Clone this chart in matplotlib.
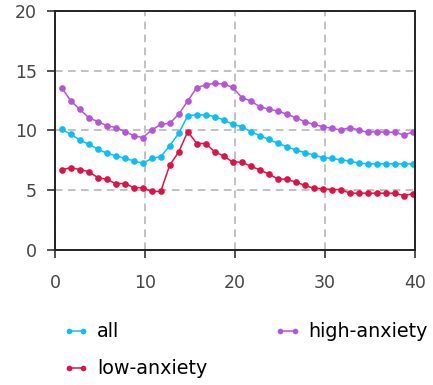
import matplotlib
matplotlib.use("Agg")
import matplotlib.pyplot as plt

x = [0.75, 1.75, 2.75, 3.75, 4.75, 5.75, 6.75, 7.75, 8.75, 9.75,
     10.75, 11.75, 12.75, 13.75, 14.75, 15.75, 16.75, 17.75, 18.75, 19.75,
     20.75, 21.75, 22.75, 23.75, 24.75, 25.75, 26.75, 27.75, 28.75, 29.75,
     30.75, 31.75, 32.75, 33.75, 34.75, 35.75, 36.75, 37.75, 38.75, 39.75]

all_vals = [10.09, 9.67, 9.2, 8.83, 8.44, 8.08, 7.89, 7.66, 7.44, 7.25,
            7.66, 7.8, 8.72, 9.75, 11.23, 11.29, 11.29, 11.15, 10.87, 10.5,
            10.31, 9.9, 9.56, 9.25, 8.92, 8.64, 8.36, 8.14, 7.94, 7.72,
            7.66, 7.53, 7.44, 7.25, 7.2, 7.2, 7.2, 7.2, 7.2, 7.2]

high_vals = [13.57, 12.46, 11.76, 11.06, 10.73, 10.4, 10.23, 9.9, 9.56, 9.39,
             10.03, 10.5, 10.59, 11.35, 12.46, 13.57, 13.8, 13.94, 13.86, 13.6,
             12.74, 12.46, 11.98, 11.76, 11.62, 11.35, 11.06, 10.73, 10.5, 10.31,
             10.17, 10.03, 10.23, 10.03, 9.84, 9.9, 9.84, 9.84, 9.62, 9.84]

low_vals = [6.7, 6.88, 6.72, 6.55, 6.05, 5.9, 5.55, 5.55, 5.22, 5.2,
            4.9, 4.9, 7.1, 8.2, 9.9, 8.9, 8.9, 8.2, 7.85, 7.35,
            7.35, 7.0, 6.7, 6.35, 5.95, 5.9, 5.68, 5.4, 5.16, 5.13,
            5.05, 5.05, 4.75, 4.75, 4.75, 4.75, 4.75, 4.75, 4.55, 4.7]

series_names = ["all", "low-anxiety", "high-anxiety"]
colors = ["#0CBEF4", "#DC1446", "#B455DA"]
x_ticks = [0, 10, 20, 30, 40]
y_ticks = [0, 5, 10, 15, 20]

fig = plt.figure(figsize=(4.33, 3.85), dpi=100)
ax = fig.add_axes([55/433, 1-250/385, 360/433, (250-10.7)/385])

handles = []
for vals, name, c in zip([all_vals, low_vals, high_vals], series_names, colors):
    h, = ax.plot(x, vals, color=c, lw=1.1, marker="o", ms=4.8,
                 markeredgewidth=0, label=name)
    handles.append(h)

ax.set_xlim(0, 40)
ax.set_ylim(0, 20)
ax.set_xticks(x_ticks)
ax.set_yticks(y_ticks)
ax.grid(True, color="#b0b0b0", linestyle=(0, (5, 3.5)), lw=1.1)
ax.set_axisbelow(True)
for s in ax.spines.values():
    s.set_color("#222222")
    s.set_linewidth(1.4)
ax.tick_params(direction="out", length=6, width=1.2, color="#333333",
               labelcolor="#444444", labelsize=12.5)
ax.tick_params(axis="y", pad=7)
ax.tick_params(axis="x", pad=11)

fig.legend(handles=handles, labels=series_names, ncol=2, loc="upper left",
           bbox_to_anchor=(46/433, 1-305/385), frameon=False,
           fontsize=13.8, numpoints=2, handlelength=1.35, handletextpad=0.42,
           columnspacing=3.5, labelspacing=0.95, markerscale=0.85)

fig.savefig("out.png", dpi=100)
